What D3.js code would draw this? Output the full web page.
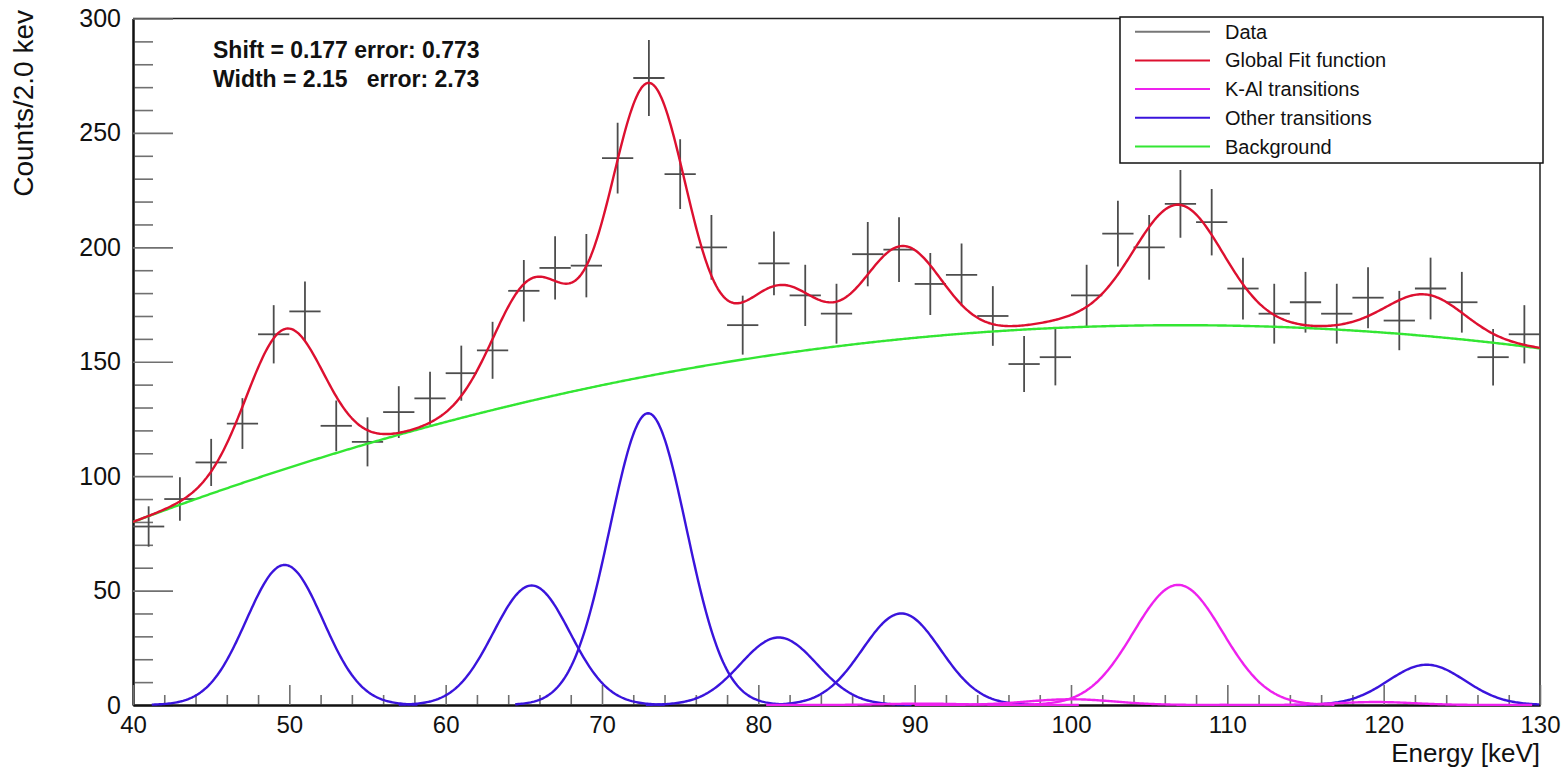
<!DOCTYPE html>
<html><head><meta charset="utf-8">
<script src="https://cdn.jsdelivr.net/npm/d3@7"></script>
<style>
html,body{margin:0;padding:0;background:#fff;}
svg{display:block;font-family:"Liberation Sans",Arial,Helvetica,sans-serif;}
</style></head><body>
<svg id="chart" width="1565" height="767"></svg>
<script>
// ---------- data ----------
const binCenters = [41,43,45,47,49,51,53,55,57,59,61,63,65,67,69,71,73,75,77,79,81,83,85,87,89,91,93,95,97,99,101,103,105,107,109,111,113,115,117,119,121,123,125,127,129];
const counts = [78,90,106,123,162,172,122,115,128,134,145,155,181,191,192,239,274,232,200,166,193,179,171,197,199,184,188,170,149,152,179,206,200,219,211,182,171,176,171,178,168,182,176,152,162];
const binHalfWidth = 1;

// "Other transitions" gaussian components (fit parameters)
const otherCenters = [49.7, 65.5, 72.95, 81.3, 89.15, 122.75];
const otherAmps    = [61.2, 52.2, 127.5, 29.5, 40.0, 17.6];
const otherSigmas  = [2.45, 2.45, 2.45, 2.45, 2.5, 2.45];

// "K-Al transitions" gaussian components
const kalCenters = [106.85, 100.0, 119.5, 90.5];
const kalAmps    = [52.5, 2.5, 1.3, 0.6];
const kalSigmas  = [2.85, 2.8, 2.45, 2.45];

// Background polynomial coefficients p0 + p1*x + p2*x^2
const bgCoef = [-53.36, 4.100, -0.01916];

const xTicks = [40,50,60,70,80,90,100,110,120,130];
const yTicks = [0,50,100,150,200,250,300];
const legendLabels = ["Data","Global Fit function","K-Al transitions","Other transitions","Background"];
const legendColors = ["#777777","#dd1030","#ee22ee","#3a14dc","#33e633"];
const annotationLines = ["Shift = 0.177 error: 0.773","Width = 2.15   error: 2.73"];
const xTitle = "Energy [keV]";
const yTitle = "Counts/2.0 kev";

// ---------- layout ----------
const svg = d3.select("#chart");
const L = 133, R = 1540, T = 18.5, B = 705;
const x = d3.scaleLinear().domain([40,130]).range([L,R]);
const y = d3.scaleLinear().domain([0,300]).range([B,T]);

const gauss = (xx,c,a,s) => a*Math.exp(-((xx-c)*(xx-c))/(2*s*s));
const bg = xx => bgCoef[0] + bgCoef[1]*xx + bgCoef[2]*xx*xx;
const total = xx => {
  let v = bg(xx);
  otherCenters.forEach((c,i)=> v += gauss(xx,c,otherAmps[i],otherSigmas[i]));
  kalCenters.forEach((c,i)=> v += gauss(xx,c,kalAmps[i],kalSigmas[i]));
  return v;
};

svg.append("defs").append("clipPath").attr("id","plotclip")
  .append("rect").attr("x",L).attr("y",T).attr("width",R-L).attr("height",B-T+1);

// frame (top & right)
svg.append("path").attr("d",`M${L},${T}H${R}V${B}`).attr("fill","none")
  .attr("stroke","#222").attr("stroke-width",1.5);

// ---------- axes ----------
const yMinor = d3.range(0,301,10).filter(v=>v%50!==0);
const xMinor = d3.range(40,131,2).filter(v=>v%10!==0);

const gyMinor = svg.append("g").attr("transform",`translate(${L},0)`)
  .call(d3.axisLeft(y).tickValues(yMinor).tickSize(-20).tickSizeOuter(0).tickFormat(""));
const gy = svg.append("g").attr("transform",`translate(${L},0)`)
  .call(d3.axisLeft(y).tickValues(yTicks).tickSize(-40).tickSizeOuter(0).tickPadding(12));
const gxMinor = svg.append("g").attr("transform",`translate(0,${B})`)
  .call(d3.axisBottom(x).tickValues(xMinor).tickSize(-10).tickSizeOuter(0).tickFormat(""));
const gx = svg.append("g").attr("transform",`translate(0,${B})`)
  .call(d3.axisBottom(x).tickValues(xTicks).tickSize(-20).tickSizeOuter(0).tickPadding(11));

[gyMinor,gy,gxMinor,gx].forEach(g=>{
  g.selectAll(".tick line").attr("stroke","#707070").attr("stroke-width",1.6);
  g.select(".domain").attr("stroke","#111").attr("stroke-width",2);
  g.selectAll("text").attr("font-size",25).attr("fill","#111")
    .attr("font-family",'"Liberation Sans",Arial,sans-serif');
});
gx.selectAll("text").attr("font-size",24);

// axis titles
svg.append("text").attr("x",R).attr("y",762).attr("text-anchor","end")
  .attr("font-size",26).attr("fill","#111").text(xTitle);
svg.append("text").attr("transform",`translate(33,10) rotate(-90)`).attr("text-anchor","end")
  .attr("font-size",28).attr("fill","#111").text(yTitle);

// ---------- data crosses ----------
const gData = svg.append("g").attr("clip-path","url(#plotclip)")
  .attr("stroke","#4d4d4d").attr("stroke-width",1.8);
binCenters.forEach((c,i)=>{
  const n = counts[i], e = Math.sqrt(n);
  gData.append("line").attr("x1",x(c-binHalfWidth)).attr("x2",x(c+binHalfWidth))
    .attr("y1",y(n)).attr("y2",y(n));
  gData.append("line").attr("x1",x(c)).attr("x2",x(c))
    .attr("y1",y(n-e)).attr("y2",y(n+e));
});

// ---------- curves ----------
const line = d3.line().x(d=>x(d[0])).y(d=>y(d[1]));
const gCurves = svg.append("g").attr("clip-path","url(#plotclip)").attr("fill","none")
  .attr("stroke-linejoin","round");
const sampleRange = (a,b) => d3.range(Math.max(40,a), Math.min(130,b)+1e-9, 0.1);

otherCenters.forEach((c,i)=>{
  const pts = sampleRange(c-8.5, c+8.5).map(xx=>[xx, gauss(xx,c,otherAmps[i],otherSigmas[i])]);
  gCurves.append("path").attr("d",line(pts)).attr("stroke",legendColors[3]).attr("stroke-width",2.4);
});
kalCenters.forEach((c,i)=>{
  const pts = sampleRange(c-10, c+10).map(xx=>[xx, gauss(xx,c,kalAmps[i],kalSigmas[i])]);
  gCurves.append("path").attr("d",line(pts)).attr("stroke",legendColors[2]).attr("stroke-width",2.4);
});
gCurves.append("path").attr("d",line(sampleRange(40,130).map(xx=>[xx,bg(xx)])))
  .attr("stroke",legendColors[4]).attr("stroke-width",2.4);
gCurves.append("path").attr("d",line(sampleRange(40,130).map(xx=>[xx,total(xx)])))
  .attr("stroke",legendColors[1]).attr("stroke-width",2.4);

// ---------- annotation ----------
annotationLines.forEach((t,i)=>{
  svg.append("text").attr("x",213).attr("y",58+i*28.5).attr("font-size",23)
    .attr("font-weight","bold").attr("fill","#111").style("white-space","pre").text(t);
});

// ---------- legend ----------
const lg = svg.append("g");
lg.append("rect").attr("x",1120).attr("y",17).attr("width",423).attr("height",146)
  .attr("fill","#fff").attr("stroke","#111").attr("stroke-width",1.5);
legendLabels.forEach((lab,i)=>{
  const cy = 31.7 + i*28.7;
  lg.append("line").attr("x1",1135).attr("x2",1210).attr("y1",cy).attr("y2",cy)
    .attr("stroke",legendColors[i]).attr("stroke-width",2);
  lg.append("text").attr("x",1225).attr("y",cy+7).attr("font-size",20).attr("fill","#111").text(lab);
});
</script>
</body></html>
